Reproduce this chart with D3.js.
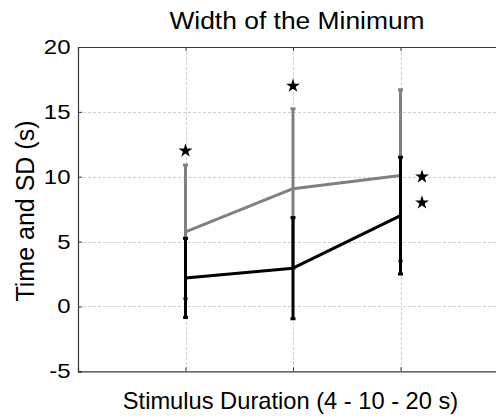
<!DOCTYPE html>
<html><head><meta charset="utf-8">
<script src="https://cdn.jsdelivr.net/npm/d3@7"></script>
<style>body{margin:0;background:#fff}svg{display:block}text{font-family:"Liberation Sans",Arial,sans-serif;fill:#000}</style>
</head><body>
<svg id="c" width="496" height="416"></svg>
<script>
// Data
const categories = [1, 2, 3];               // stimulus durations 4, 10, 20 s
const grayMean  = [5.75, 9.08, 10.1];
const graySD    = [5.15, 6.15, 6.6];
const blackMean = [2.2, 2.95, 7.0];
const blackSD   = [3.05, 3.9, 4.5];
const starX = [1, 2, 3.2, 3.2];
const starY = [12, 17, 10, 8];
const yTicks = [-5, 0, 5, 10, 15, 20];
const xTicks = [1, 2, 3];
const title = "Width of the Minimum";
const xLabel = "Stimulus Duration (4 - 10 - 20 s)";
const yLabel = "Time and SD (s)";

const svg = d3.select("#c");
const L = 78, T = 47, B = 371.3, R = 508;
const x = d3.scaleLinear().domain([0, 4]).range([L, R]);
const y = d3.scaleLinear().domain([-5, 20]).range([B, T]);

// grid
const grid = svg.append("g").attr("stroke", "#cfcfcf").attr("stroke-width", 1).attr("stroke-dasharray", "3,2");
yTicks.filter(t => t > -5 && t < 20).forEach(t => grid.append("line").attr("x1", L).attr("x2", R).attr("y1", Math.round(y(t)) + 0.5).attr("y2", Math.round(y(t)) + 0.5));
xTicks.forEach(t => grid.append("line").attr("y1", T).attr("y2", B).attr("x1", Math.round(x(t)) + 0.5).attr("x2", Math.round(x(t)) + 0.5));

// axes (MATLAB box, inward ticks)
const axL = svg.append("g").attr("transform", `translate(${L},0)`)
  .call(d3.axisRight(y).tickValues(yTicks).tickSize(4).tickFormat(""));
const axB = svg.append("g").attr("transform", `translate(0,${B})`)
  .call(d3.axisTop(x).tickValues(xTicks).tickSize(4).tickFormat(""));
const axT = svg.append("g").attr("transform", `translate(0,${T})`)
  .call(d3.axisBottom(x).tickValues(xTicks).tickSize(4).tickFormat(""));
[axL, axB, axT].forEach(a => { a.selectAll("path,line").attr("stroke", "#3a3a3a"); a.select(".domain").attr("stroke-width", 1.2); });

// tick labels
svg.append("g").selectAll("text").data(yTicks).join("text")
  .attr("text-anchor", "end")
  .attr("transform", d => `translate(70.5,${y(d) + 7}) scale(1.2,1)`)
  .style("font-size", "20px")
  .text(d => d);

// series
function drawSeries(mean, sd, color) {
  const g = svg.append("g");
  const line = d3.line().x((d, i) => x(categories[i])).y(d => y(d));
  g.append("path").datum(mean).attr("d", line).attr("fill", "none").attr("stroke", color).attr("stroke-width", 3).attr("stroke-linejoin", "round");
  categories.forEach((c, i) => {
    const cx = x(c), top = y(mean[i] + sd[i]), bot = y(mean[i] - sd[i]);
    g.append("line").attr("x1", cx).attr("x2", cx).attr("y1", top).attr("y2", bot).attr("stroke", color).attr("stroke-width", 3);
    [top, bot].forEach(yy => g.append("line").attr("x1", cx - 2.5).attr("x2", cx + 2.5).attr("y1", yy).attr("y2", yy).attr("stroke", color).attr("stroke-width", 3));
  });
}
drawSeries(grayMean, graySD, "#808080");
drawSeries(blackMean, blackSD, "#000000");

// stars
svg.append("g").selectAll("path").data(starX).join("path")
  .attr("d", d3.symbol().type(d3.symbolStar).size(60))
  .attr("transform", (d, i) => `translate(${x(d)},${y(starY[i])})`)
  .attr("fill", "#000");

// title & labels
svg.append("text").attr("text-anchor", "middle").attr("transform", "translate(297,28.5) scale(1.1,1)").style("font-size", "24px").text(title);
svg.append("text").attr("text-anchor", "middle").attr("transform", "translate(290.5,408.5) scale(1.03,1)").style("font-size", "23px").text(xLabel);
svg.append("text").attr("text-anchor", "middle").attr("transform", "translate(34,211) rotate(-90)").style("font-size", "25px").text(yLabel);
</script>
</body></html>
